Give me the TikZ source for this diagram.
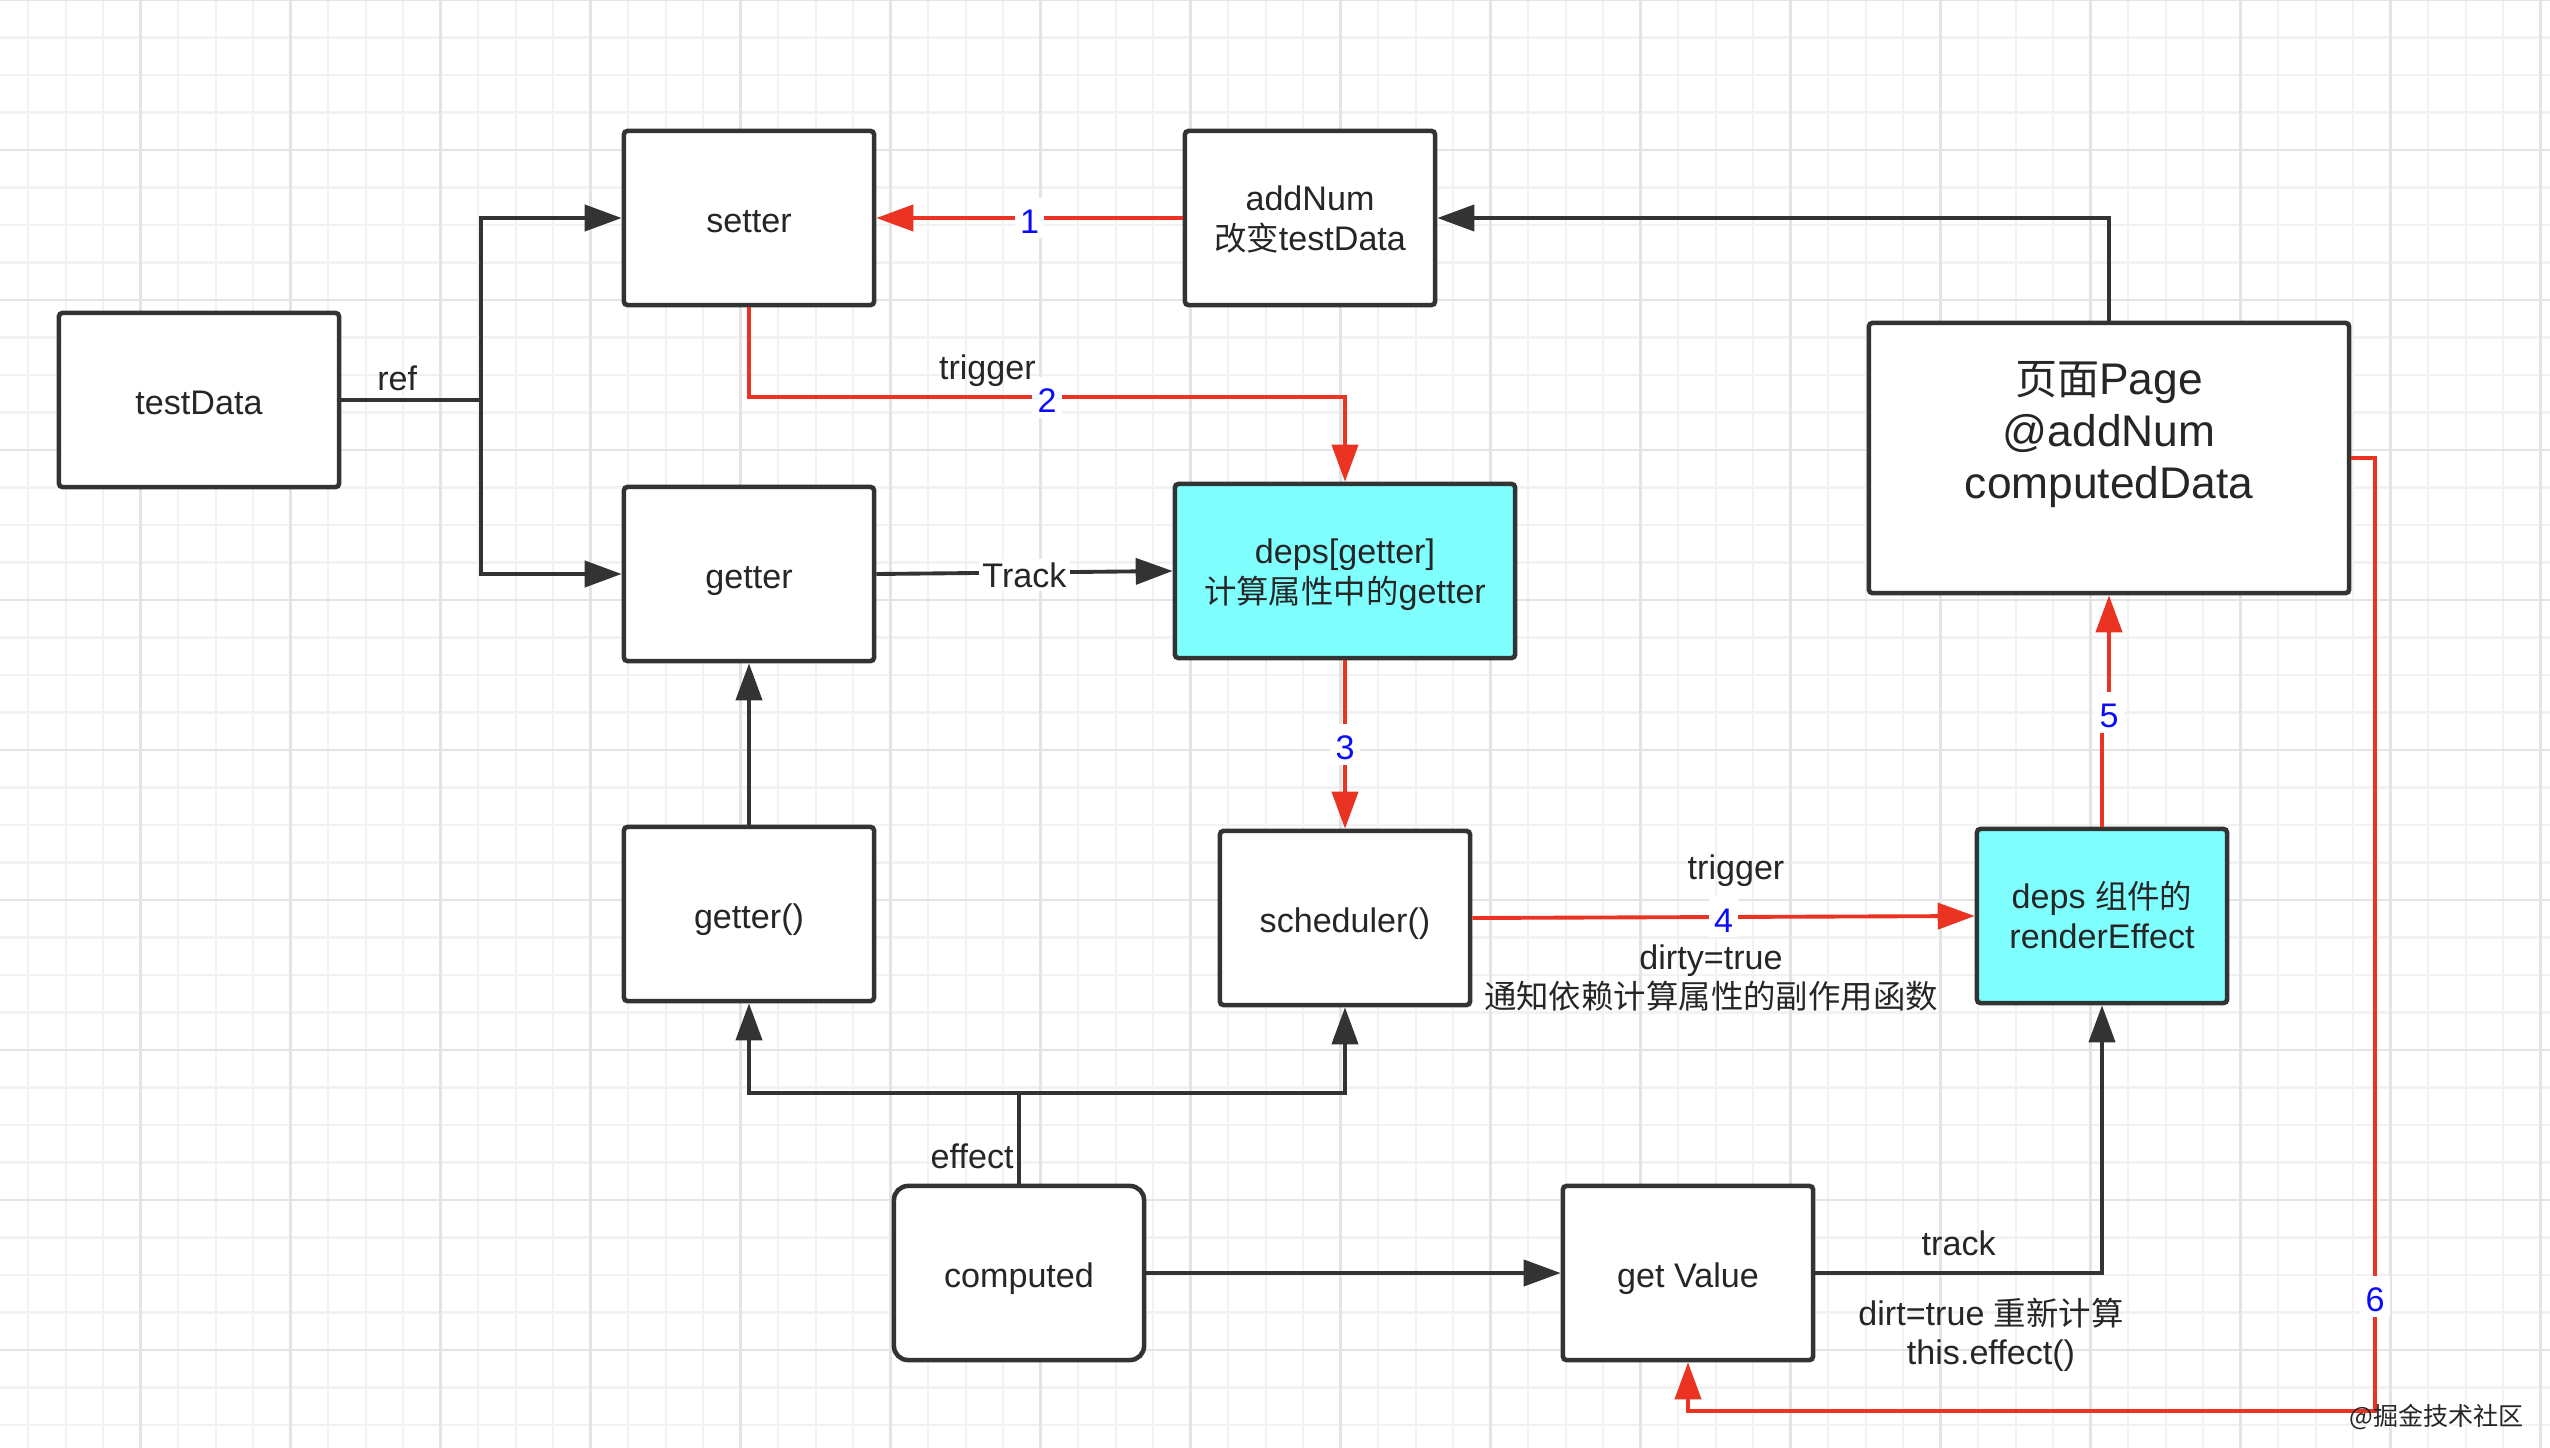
\documentclass[tikz,border=0pt]{standalone}
\usepackage{fontspec}
\setmainfont{Liberation Sans}
\newfontfamily\cjk{Noto Sans CJK SC}[Scale=0.95]
\usetikzlibrary{arrows.meta}
\definecolor{lineGray}{HTML}{333333}
\definecolor{flowRed}{HTML}{EA3323}
\definecolor{depsCyan}{HTML}{80FFFF}
\definecolor{numBlue}{HTML}{0A0AFF}
\definecolor{gridMinor}{HTML}{F2F2F2}
\definecolor{gridMajor}{HTML}{E4E4E4}
\newcommand\boxtop{\rule{0pt}{1em}}

\begin{document}
\begin{tikzpicture}[x=0.01cm,y=-0.01cm,
  box/.style={draw=lineGray,line width=1.3pt,fill=white,rounded corners=1pt,minimum width=2.5cm,minimum height=1.74cm,align=center,text=black!85,font=\fontsize{9.7}{11.2}\selectfont,
    execute at begin node={\rule{0pt}{1.1em}},execute at end node={\rule[-0.26em]{0pt}{0.26em}}},
  depsbox/.style={box,fill=depsCyan},
  wire/.style={draw=lineGray,line width=1.1pt},
  redwire/.style={draw=flowRed,line width=1.1pt},
  arr/.style={-{Triangle[length=10.5pt,width=7.4pt]}},
  lbl/.style={text=black!85,font=\fontsize{9.7}{11.2}\selectfont,inner sep=1pt},
  num/.style={fill=white,text=numBlue,font=\fontsize{9.7}{11.2}\selectfont,inner sep=1.5pt,text height=8.6pt,text depth=0pt}]
 \useasboundingbox (0,0) rectangle (2550,1448);
 \fill[white] (0,0) rectangle (2550,1448);
 \foreach \k in {0,...,68} \draw[gridMinor,line width=0.6pt] ({-9.4+37.5*\k},0) -- ({-9.4+37.5*\k},1448);
 \foreach \k in {0,...,38} \draw[gridMinor,line width=0.6pt] (0,{37.5*\k}) -- (2550,{37.5*\k});
 \foreach \k in {0,...,17} \draw[gridMajor,line width=0.8pt] ({-9.4+150*\k},0) -- ({-9.4+150*\k},1448);
 \foreach \k in {0,...,9} \draw[gridMajor,line width=0.8pt] (0,{150*\k}) -- (2550,{150*\k});

 \node[box,minimum width=2.8cm] (testData) at (199,400) {testData};
 \node[box] (setter) at (749,218) {setter};
 \node[box] (getter) at (749,574) {getter};
 \node[box] (addNum) at (1310,218) {\boxtop addNum\\{\cjk 改变}testData};
 \node[box,minimum width=4.8cm,minimum height=2.7cm,font=\fontsize{12.6}{14.8}\selectfont] (page) at (2109,458) {\boxtop{\cjk 页面}Page\\@addNum\\computedData\\\strut};
 \node[depsbox,minimum width=3.4cm] (depsGetter) at (1345,571) {\boxtop deps[getter]\\{\cjk 计算属性中的}getter};
 \node[box] (getterFn) at (749,914) {getter()};
 \node[box] (scheduler) at (1345,918) {scheduler()};
 \node[depsbox] (renderEffect) at (2102,916) {\boxtop deps {\cjk 组件的}\\renderEffect};
 \node[box,rounded corners=4pt] (computed) at (1019,1273) {computed};
 \node[box] (getValue) at (1688,1273) {get Value};

 \coordinate (refSplit) at (481,400);
 \coordinate (effSplit) at (1019,1093);
 \coordinate (loopCorner) at (2375,1411);

 \draw[wire] (testData.east) -- node[lbl,above=1pt,pos=0.4] (refLbl) {ref} (refSplit);
 \draw[wire,arr] (refSplit) |- (setter.west);
 \draw[wire,arr] (refSplit) |- (getter.west);
 \draw[redwire,arr] (addNum.west) -- node[num] (n1) {1} (setter.east);
 \draw[redwire,arr] (setter.south) -- ++(0,90) -| node[num,pos=0.25] (n2) {2} node[lbl,above=1.6pt,pos=0.2] (trigLbl) {trigger} (depsGetter.north);
 \draw[wire,arr] (getter.east) -- node[lbl,fill=white,yshift=-0.8pt] (trackLbl) {Track} (depsGetter.west);
 \draw[redwire,arr] (depsGetter.south) -- node[num] (n3) {3} (scheduler.north);
 \draw[redwire,arr] (scheduler.east) -- node[num] (n4) {4} (renderEffect.west);
 \node[lbl] (trigLbl2) at (1736,871) {trigger};
 \node[lbl,align=center] (dirtyNote) at (1711,978) {dirty=true\\{\cjk 通知依赖计算属性的副作用函数}};
 \draw[wire,arr] (getterFn.north) -- (getter.south);
 \draw[wire] (computed.north) -- node[lbl,pos=0.3,anchor=east] (effLbl) {effect} (effSplit);
 \draw[wire,arr] (effSplit) -| (getterFn.south);
 \draw[wire,arr] (effSplit) -| (scheduler.south);
 \draw[wire,arr] (computed.east) -- (getValue.west);
 \draw[wire,arr] (getValue.east) -| node[lbl,above=3.3pt,pos=0.25] (trackLbl2) {track} (renderEffect.south);
 \node[lbl,align=center] (recalcNote) at (1991,1335) {dirt=true {\cjk 重新计算}\\this.effect()};
 \draw[redwire,arr] (renderEffect.north) -- ++(0,-114) -| node[num,pos=0.5] (n5) {5} (page.south);
 \draw[wire,arr] (page.north) |- (addNum.east);
 \draw[redwire,arr] (page.east) -| node[num,pos=0.94] (n6) {6} (loopCorner) -| (getValue.south);
 \node[font=\cjk\fontsize{7.5}{9}\selectfont,text=black!85,inner sep=0pt] (mark) at (2437,1417) {@掘金技术社区};
\end{tikzpicture}
\end{document}
